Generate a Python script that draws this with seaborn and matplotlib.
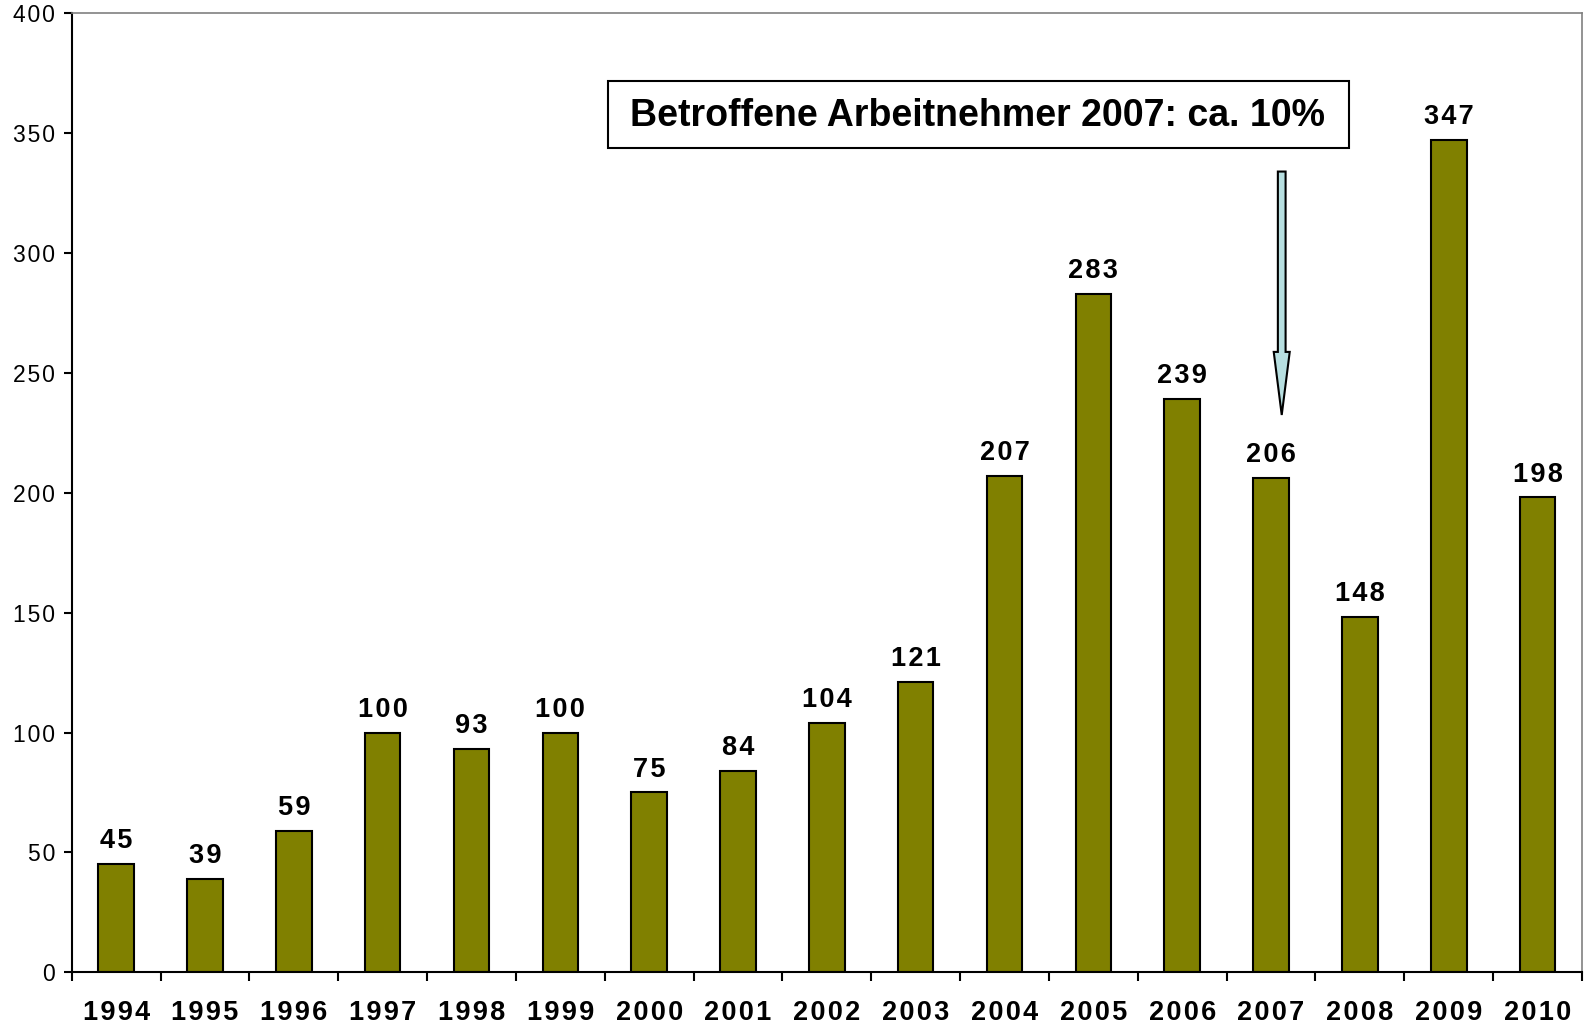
import pandas as pd
import matplotlib.pyplot as plt
import seaborn as sns
from matplotlib.patches import Rectangle, FancyArrow

# Data
years = ['1994', '1995', '1996', '1997', '1998', '1999', '2000', '2001', '2002',
         '2003', '2004', '2005', '2006', '2007', '2008', '2009', '2010']
values = [45, 39, 59, 100, 93, 100, 75, 84, 104, 121, 207, 283, 239, 206, 148, 347, 198]
yticks = [0, 50, 100, 150, 200, 250, 300, 350, 400]
note_text = 'Betroffene Arbeitnehmer 2007: ca. 10%'

df = pd.DataFrame({'year': years, 'value': values})

sns.set_style('white')
plt.rcParams['font.family'] = ['Liberation Sans', 'DejaVu Sans']
plt.rcParams['text.color'] = 'black'
plt.rcParams['xtick.color'] = 'black'
plt.rcParams['ytick.color'] = 'black'


def spaced(s):
    # mimic the letter spacing of the original labels
    return '\u200a'.join(s)


fig = plt.figure(figsize=(15.85, 10.33), dpi=100)
ax = fig.add_axes([0.0453, 0.0587, 0.9528, 0.9287])

sns.barplot(data=df, x='year', y='value', color='#808000', saturation=1,
            width=0.4, edgecolor='black', linewidth=1.5, ax=ax)

# value labels above bars
for i, v in enumerate(values):
    ax.annotate(spaced(str(v)), (i, v), xytext=(0, 11.5), textcoords='offset points',
                ha='center', va='baseline', fontsize=19.5, fontweight='bold')

ax.set_xlim(-0.5, len(years) - 0.5)
ax.set_ylim(0, 400)
ax.set_yticks(yticks)
ax.set_yticklabels([spaced(str(t)) for t in yticks], fontsize=16.5)

# tick marks between categories, labels centred under the bars
ax.set_xticks([i - 0.5 for i in range(len(years) + 1)])
ax.set_xticklabels([])
ax.set_xticks(range(len(years)), minor=True)
ax.set_xticklabels([spaced(y) for y in years], minor=True, fontsize=19.5, fontweight='bold')
ax.tick_params(axis='x', which='major', bottom=True, direction='out', length=6.5, width=1.5)
ax.tick_params(axis='x', which='minor', bottom=True, length=0, pad=20)
ax.tick_params(axis='y', left=True, direction='out', length=6, width=1.5, pad=6)
ax.set_xlabel('')
ax.set_ylabel('')

for side in ['left', 'bottom']:
    ax.spines[side].set_color('black')
    ax.spines[side].set_linewidth(1.5)
for side in ['top', 'right']:
    ax.spines[side].set_color('#808080')
    ax.spines[side].set_linewidth(1.2)

# annotation box
ax.add_patch(Rectangle((5.54, 343.9), 13.88 - 5.54, 371.8 - 343.9,
                       facecolor='white', edgecolor='black', linewidth=1.5, zorder=3))
ax.text(9.7, 357.2, note_text, ha='center', va='center', fontsize=27,
        fontweight='bold', zorder=4)

# arrow pointing at 2007
ax.add_patch(FancyArrow(13.12, 333.9, 0, 232.4 - 333.9, width=0.087, head_width=0.18,
                        head_length=26.3, length_includes_head=True,
                        facecolor='#B7DFE0', edgecolor='black', linewidth=1.5, zorder=3))

plt.savefig('out.png', dpi=100)
